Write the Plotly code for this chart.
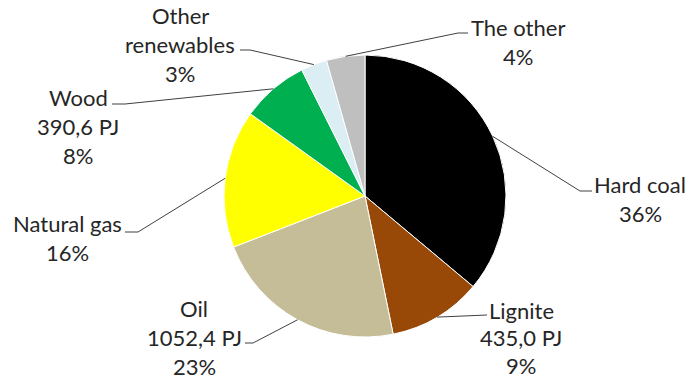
import math
import plotly.graph_objects as go

# ---- data ----
categories = ["Hard coal", "Lignite", "Oil", "Natural gas", "Wood", "Other renewables", "The other"]
shares = [36.1, 10.7, 22.3, 15.8, 7.7, 3.0, 4.4]          # slice sizes as drawn
label_lines = [
    ["Hard coal", "36%"],
    ["Lignite", "435,0 PJ", "9%"],
    ["Oil", "1052,4 PJ", "23%"],
    ["Natural gas", "16%"],
    ["Wood", "390,6 PJ", "8%"],
    ["Other", "renewables", "3%"],
    ["The other", "4%"],
]
colors = ["#000000", "#984807", "#C4BD97", "#FFFF00", "#00B050", "#DBEEF4", "#BFBFBF"]

# ---- layout (pixels) ----
W, H = 689, 380
cx, cy, R = 365, 196, 141
# text block centre x, first-line y, line spacing ; leader elbow and end points
label_pos = [(640, 184, 29), (521, 310, 27.5), (194, 308, 29), (67, 223, 29),
             (78, 97, 29), (180, 15, 29), (518, 27, 29)]
elbows = [((580, 191), (592, 191)),
          ((487, 315), (487, 315)),
          ((253, 343), (245, 343)),
          ((138, 232), (125, 232)),
          ((125, 104), (112, 104)),
          ((250, 50), (240, 50)),
          ((458, 33), (468, 33))]
FONT = "Lato"
TXT = "#262626"

fig = go.Figure()
fig.add_trace(go.Pie(
    labels=categories, values=shares, sort=False, direction="clockwise", rotation=0,
    marker=dict(colors=colors, line=dict(color="white", width=1)),
    textinfo="none", hoverinfo="label+percent", showlegend=False,
    domain=dict(x=[(cx - R) / W, (cx + R) / W], y=[(H - cy - R) / H, (H - cy + R) / H]),
))

total = sum(shares)
cum = 0.0
shapes = []
annotations = []
for i, v in enumerate(shares):
    mid = (cum + v / 2) / total * 2 * math.pi
    cum += v
    sx = cx + R * math.sin(mid)
    sy = cy - R * math.cos(mid)
    (ex, ey), (fx, fy) = elbows[i]
    shapes.append(dict(type="path", xref="x", yref="y",
                       path=f"M {sx:.1f} {sy:.1f} L {ex} {ey} L {fx} {fy}",
                       line=dict(color="#404040", width=1)))
    lx, ly, lh = label_pos[i]
    for j, t in enumerate(label_lines[i]):
        annotations.append(dict(x=lx, y=ly + j * lh, xref="x", yref="y", text=t,
                                showarrow=False, xanchor="center", yanchor="middle",
                                borderpad=0,
                                font=dict(family=FONT, size=22, color=TXT)))

fig.update_layout(
    width=W, height=H, margin=dict(l=0, r=0, t=0, b=0),
    paper_bgcolor="white", plot_bgcolor="rgba(0,0,0,0)",
    xaxis=dict(range=[0, W], visible=False, fixedrange=True),
    yaxis=dict(range=[H, 0], visible=False, fixedrange=True),
    shapes=shapes, annotations=annotations,
)
fig.write_html("out.html")
